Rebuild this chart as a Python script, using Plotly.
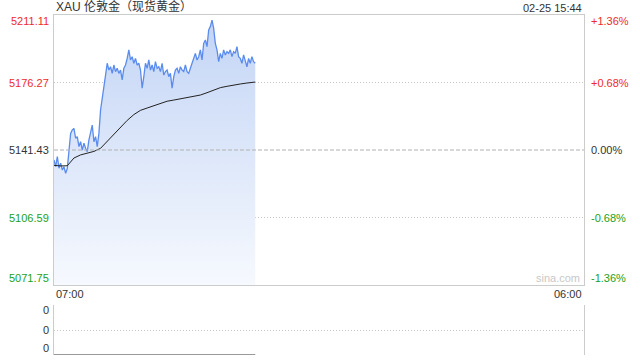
import pandas as pd
import plotly.graph_objects as go

# ---- data ----
title_text = "XAU 伦敦金（现货黄金）"
stamp_text = "02-25 15:44"
prev_close = 5141.43
left_ticks = [5211.11, 5176.27, 5141.43, 5106.59, 5071.75]
right_ticks = ["+1.36%", "+0.68%", "0.00%", "-0.68%", "-1.36%"]
x_tick_labels = ["07:00", "06:00"]
session_start = "2026-02-25 07:00"
session_end = "2026-02-26 06:00"
last_time = "2026-02-25 15:44"

price = [
    5136.3, 5132.8, 5138.0, 5132.0, 5134.6, 5131.1, 5132.8, 5129.4, 5132.0, 5141.4,
    5150.0, 5151.8, 5152.6, 5147.5, 5148.3, 5143.2, 5145.7, 5141.4, 5144.9, 5142.3,
    5140.6, 5146.6, 5150.0, 5154.3, 5145.7, 5148.3, 5143.2, 5150.0, 5162.1, 5169.0,
    5174.1, 5180.1, 5186.2, 5182.7, 5184.4, 5181.0, 5185.3, 5181.9, 5183.6, 5181.0,
    5182.7, 5177.6, 5183.6, 5185.3, 5188.7, 5193.1, 5187.9, 5189.6, 5186.2, 5188.7,
    5185.3, 5186.2, 5182.7, 5173.3, 5179.3, 5186.2, 5183.6, 5187.9, 5182.7, 5185.3,
    5181.9, 5187.0, 5183.6, 5184.4, 5181.9, 5186.2, 5180.1, 5181.9, 5182.7, 5179.3,
    5181.0, 5173.3, 5179.3, 5182.7, 5183.6, 5181.0, 5184.4, 5182.7, 5181.9, 5185.3,
    5181.9, 5181.0, 5183.6, 5186.2, 5188.7, 5191.3, 5187.9, 5189.6, 5193.1, 5187.9,
    5196.5, 5198.2, 5194.8, 5203.4, 5205.1, 5208.5, 5204.2, 5196.5, 5193.1, 5187.0,
    5191.3, 5188.7, 5193.1, 5190.5, 5192.2, 5191.3, 5193.1, 5189.6, 5192.2, 5191.3,
    5194.8, 5189.6, 5188.7, 5186.2, 5190.5, 5187.9, 5184.4, 5188.7, 5186.2, 5189.6,
    5187.0, 5186.2,
]
ma_index = [0, 4, 8, 12, 16, 20, 24, 28, 32, 36, 40, 44, 48, 52, 56, 60, 64, 68, 72,
            76, 80, 84, 88, 92, 96, 100, 104, 108, 112, 116, 120, 121]
ma_price = [
    5133.5, 5133.2, 5133.3, 5137.3, 5138.9, 5139.9, 5140.7, 5142.3, 5145.9, 5149.7,
    5153.5, 5156.7, 5159.7, 5161.9, 5163.1, 5164.3, 5165.5, 5166.6, 5167.2, 5167.8,
    5168.4, 5169.0, 5169.8, 5171.0, 5172.4, 5173.6, 5174.3, 5175.0, 5175.5, 5176.0,
    5176.4, 5176.5,
]
volume_times = [session_start, last_time]
volume = [0, 0]
volume_labels = ["0", "0", "0"]

# ---- styles ----
RED = "#ee2b2b"
GREEN = "#1aa21a"
DARK = "#333333"
BORDER = "#cccccc"
FONT = "Arial, Liberation Sans, sans-serif"
CJK = "Arial, Noto Sans CJK SC, sans-serif"

times = pd.date_range(session_start, last_time, periods=len(price))
ma_times = [times[i] for i in ma_index]

fig = go.Figure()
fig.add_trace(go.Scatter(
    x=times, y=price, mode="lines",
    line=dict(color="#5a8cee", width=1.3),
    fill="tozeroy",
    fillgradient=dict(type="vertical",
                      colorscale=[[0, "rgba(246,249,254,1)"], [1, "rgba(194,212,245,1)"]],
                      start=left_ticks[-1], stop=left_ticks[0]),
    xaxis="x", yaxis="y", hoverinfo="skip",
))
fig.add_trace(go.Scatter(
    x=ma_times, y=ma_price, mode="lines",
    line=dict(color="#222222", width=1),
    xaxis="x", yaxis="y", hoverinfo="skip",
))
fig.add_trace(go.Scatter(
    x=volume_times, y=volume, mode="lines",
    line=dict(color="#777777", width=1.5),
    xaxis="x2", yaxis="y2", hoverinfo="skip",
))

plot_h = 340.0
main_dom = [70 / plot_h, 1]
vol_dom = [0, 50 / plot_h]

fig.update_layout(
    width=640, height=360,
    margin=dict(l=54, r=56, t=15, b=5),
    paper_bgcolor="white", plot_bgcolor="rgba(0,0,0,0)",
    showlegend=False,
    font=dict(family=FONT, size=11, color=DARK),
    xaxis=dict(range=[session_start, session_end], showline=True, linecolor=BORDER,
               mirror=True, showgrid=False, showticklabels=False, ticks="",
               zeroline=False, fixedrange=True),
    yaxis=dict(range=[left_ticks[-1], left_ticks[0]], domain=main_dom, showline=True,
               linecolor=BORDER, mirror=True, showticklabels=False, ticks="",
               tickvals=[left_ticks[1], left_ticks[3]], showgrid=True,
               gridcolor="#c8c8c8", griddash="1px,2px", zeroline=False),
    xaxis2=dict(range=[session_start, session_end], anchor="y2", showline=False,
                showgrid=False, showticklabels=False, ticks="", zeroline=False),
    yaxis2=dict(range=[0, 1], domain=vol_dom, anchor="x2", showline=True,
                linecolor=BORDER, mirror=True, showticklabels=False, ticks="",
                tickvals=[0, 0.5, 1], showgrid=True, gridcolor="#c8c8c8",
                griddash="1px,2px", zeroline=False),
)

# previous-close line (dashed, darker)
fig.add_shape(type="line", xref="x domain", yref="y", x0=0, x1=1,
              y0=prev_close, y1=prev_close,
              line=dict(color="#b0b0b0", width=1, dash="4px,2px"))

ann = []
left_colors = [RED, RED, DARK, GREEN, GREEN]
shifts = [-6, 0, 0, 0, 7]
for v, c, s in zip(left_ticks, left_colors, shifts):
    ann.append(dict(xref="paper", yref="y", x=0, y=v, text=f"{v:.2f}",
                    xanchor="right", yanchor="middle", xshift=-3, yshift=s,
                    showarrow=False, font=dict(color=c, size=11)))
for v, t, c, s in zip(left_ticks, right_ticks, left_colors, shifts):
    ann.append(dict(xref="paper", yref="y", x=1, y=v, text=t,
                    xanchor="left", yanchor="middle", xshift=5, yshift=s,
                    showarrow=False, font=dict(color=c, size=11)))
ann.append(dict(xref="paper", yref="paper", x=0, y=1, text=title_text,
                xanchor="left", yanchor="bottom", xshift=0, yshift=-1,
                showarrow=False, font=dict(family=CJK, color=DARK, size=12)))
ann.append(dict(xref="paper", yref="paper", x=1, y=1, text=stamp_text,
                xanchor="right", yanchor="bottom", xshift=0, yshift=-1,
                showarrow=False, font=dict(color=DARK, size=11)))
ann.append(dict(xref="paper", yref="y", x=0, y=left_ticks[-1], text=x_tick_labels[0],
                xanchor="left", yanchor="top", yshift=-1,
                showarrow=False, font=dict(color=DARK, size=11)))
ann.append(dict(xref="paper", yref="y", x=1, y=left_ticks[-1], text=x_tick_labels[1],
                xanchor="right", yanchor="top", yshift=-1,
                showarrow=False, font=dict(color=DARK, size=11)))
ann.append(dict(xref="paper", yref="y", x=1, y=left_ticks[-1], text="sina.com",
                xanchor="right", yanchor="bottom", xshift=-2, yshift=-1,
                showarrow=False, font=dict(color="#c8c8c8", size=11)))
for yv, t, s in zip([1, 0.5, 0], volume_labels, [-5, 0, 7]):
    ann.append(dict(xref="paper", yref="y2", x=0, y=yv, text=t,
                    xanchor="right", yanchor="middle", xshift=-3, yshift=s,
                    showarrow=False, font=dict(color=DARK, size=11)))
fig.update_layout(annotations=ann)

fig.write_html("out.html", config={"displayModeBar": False, "staticPlot": True})
